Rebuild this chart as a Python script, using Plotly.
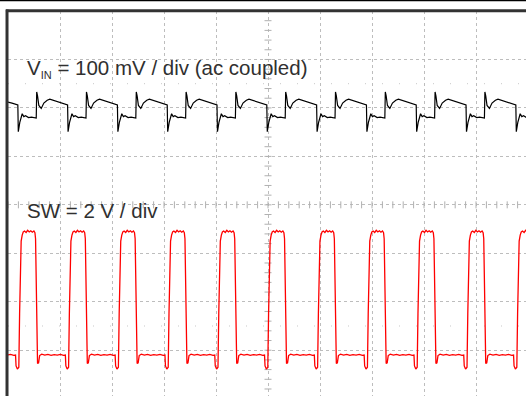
import plotly.graph_objects as go

# ---- data (time in screen divisions, values in channel units) ----
# rising-edge instants of SW (start of each switching period), in divisions
sw_rise_div = [-0.750, 0.208, 1.165, 2.123, 3.081, 4.038, 4.996, 5.954, 6.912, 7.869, 8.827, 9.785]

# one switching period of SW (V) relative to its rising edge
sw_rel_t = [0.000, 0.015, 0.030, 0.045, 0.065, 0.085, 0.110, 0.140, 0.170, 0.200, 0.230, 0.260,
            0.290, 0.310, 0.322, 0.335, 0.350, 0.360, 0.380, 0.400, 0.440, 0.500, 0.560, 0.620,
            0.680, 0.740, 0.800, 0.860, 0.895, 0.905, 0.930, 0.952]
sw_v = [-0.70, 1.50, 3.80, 4.50, 4.75, 4.88, 4.92, 4.86, 4.95, 4.88, 4.93, 4.87,
        4.92, 4.85, 4.60, 2.00, -0.20, -0.55, -0.52, -0.22, -0.16, -0.20, -0.17, -0.21,
        -0.18, -0.20, -0.17, -0.21, -0.20, -0.65, -0.78, -0.72]

# one period of VIN ripple (mV, ac coupled) relative to the SW rising edge
vin_rel_t = [-0.019, -0.010, 0.019, 0.065, 0.096, 0.129, 0.187, 0.244, 0.302, 0.335,
             0.344, 0.360, 0.385, 0.431, 0.481, 0.546, 0.596, 0.654, 0.738, 0.827, 0.898, 0.933]
vin_mv = [6, -49, -30, -12, -18, -16, -20, -19, -21, -21,
          33, 25, 5, -1, 10, 16, 18, 16, 12, 10, 7, 6]

# screen scales
VIN_SCALE = 100.0   # mV / div
SW_SCALE = 2.0      # V / div
VIN_REF_DIV = 6.0   # ground marker of VIN (divisions from bottom)
SW_REF_DIV = 1.0    # ground marker of SW
X_RANGE = [0, 9.9615]
Y_RANGE = [0.0553, 8.0]

vin_t, vin_y, sw_t, sw_y = [], [], [], []
for r in sw_rise_div:
    vin_t += [r + t for t in vin_rel_t]
    vin_y += vin_mv
    sw_t += [r + t for t in sw_rel_t]
    sw_y += sw_v

fig = go.Figure()

# centre-axis minor ticks (decoration of the graticule)
tick_x = [k * 0.2 for k in range(0, 51)]
tick_y = [k * 0.2 for k in range(0, 41)]
fig.add_trace(go.Scatter(x=tick_x, y=[4] * len(tick_x), mode="markers",
                         marker=dict(symbol="line-ns", size=5, line=dict(width=1, color="#b0b0b0")),
                         hoverinfo="skip", showlegend=False))
fig.add_trace(go.Scatter(x=[5] * len(tick_y), y=tick_y, mode="markers",
                         marker=dict(symbol="line-ew", size=5, line=dict(width=1, color="#b0b0b0")),
                         hoverinfo="skip", showlegend=False))

fig.add_trace(go.Scatter(x=vin_t, y=vin_y, mode="lines", yaxis="y2",
                         line=dict(color="#000000", width=1.2), showlegend=False))
fig.add_trace(go.Scatter(x=sw_t, y=sw_y, mode="lines", yaxis="y3",
                         line=dict(color="#ff0000", width=1.3), showlegend=False))

# ground markers at the left edge
fig.add_trace(go.Scatter(x=[-0.085], y=[0], mode="markers", yaxis="y2", cliponaxis=False,
                         marker=dict(symbol="triangle-right", size=6, color="#000000"),
                         showlegend=False))
fig.add_trace(go.Scatter(x=[-0.085], y=[0], mode="markers", yaxis="y3", cliponaxis=False,
                         marker=dict(symbol="triangle-right", size=6, color="#000000"),
                         showlegend=False))

vin_range = [(Y_RANGE[0] - VIN_REF_DIV) * VIN_SCALE, (Y_RANGE[1] - VIN_REF_DIV) * VIN_SCALE]
sw_range = [(Y_RANGE[0] - SW_REF_DIV) * SW_SCALE, (Y_RANGE[1] - SW_REF_DIV) * SW_SCALE]

hidden = dict(showticklabels=False, ticks="", showgrid=False, zeroline=False, showline=False)
fig.update_layout(
    width=526, height=396,
    margin=dict(l=8, r=0, t=11, b=0),
    paper_bgcolor="white", plot_bgcolor="white",
    xaxis=dict(range=X_RANGE, dtick=1, tick0=0, showgrid=True, gridcolor="#bdbdbd",
               griddash="dot", gridwidth=1, showticklabels=False, ticks="", zeroline=False),
    yaxis=dict(range=Y_RANGE, dtick=1, tick0=0, showgrid=True, gridcolor="#bdbdbd",
               griddash="dot", gridwidth=1, showticklabels=False, ticks="", zeroline=False),
    yaxis2=dict(range=vin_range, overlaying="y", **hidden),
    yaxis3=dict(range=sw_range, overlaying="y", **hidden),
    font=dict(family="Liberation Sans, Arial, sans-serif"),
)

# sparse dotted marker lines
for yd in [6.5, 1.5]:
    fig.add_shape(type="line", xref="x", yref="y", x0=0, x1=X_RANGE[1], y0=yd, y1=yd,
                  line=dict(color="#c8c8c8", width=1, dash="1px,16px"), layer="below")

# frame
fig.add_shape(type="line", xref="paper", yref="paper", x0=-0.1, x1=1.1, y0=1.0273, y1=1.0273,
              line=dict(color="#000000", width=1.5))
fig.add_shape(type="line", xref="paper", yref="paper", x0=-0.004, x1=1.1, y0=1.0008, y1=1.0008,
              line=dict(color="#333333", width=3))
fig.add_shape(type="line", xref="paper", yref="paper", x0=-0.0019, x1=-0.0019, y0=-0.1, y1=1.004,
              line=dict(color="#333333", width=3))

fig.add_annotation(xref="paper", yref="paper", x=0.0328, y=0.851, xanchor="left", yanchor="middle",
                   text="V<sub><span style='font-size:11px'>IN</span></sub> = 100 mV / div (ac coupled)",
                   showarrow=False, font=dict(size=20.5, color="#303030"))
fig.add_annotation(xref="paper", yref="paper", x=0.0328, y=0.4813, xanchor="left", yanchor="middle",
                   text="SW = 2 V / div", showarrow=False,
                   font=dict(size=20.5, color="#303030"))

fig.write_html("out.html", config={"displayModeBar": False},
               post_script="document.body.style.margin='0';document.body.style.overflow='hidden';")
